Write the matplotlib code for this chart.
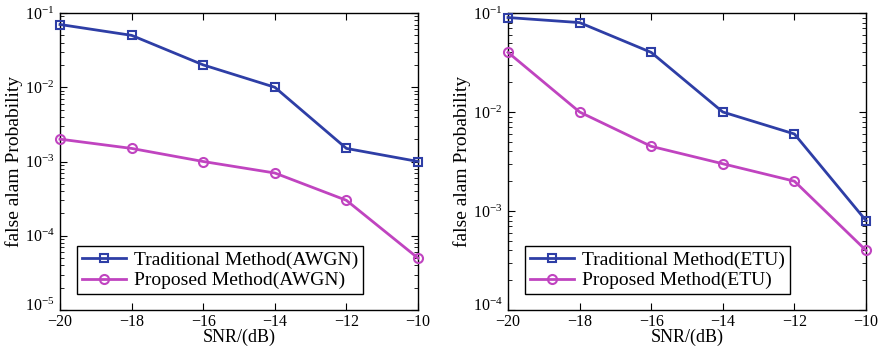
import matplotlib
matplotlib.use("Agg")
import matplotlib.pyplot as plt
import matplotlib.transforms as mtransforms
from matplotlib.ticker import LogLocator, NullFormatter

plt.rcParams['font.family'] = ['Liberation Serif', 'DejaVu Serif']
plt.rcParams['mathtext.fontset'] = 'stix'

snr = [-20, -18, -16, -14, -12, -10]
awgn_trad = [0.07, 0.05, 0.02, 0.01, 0.0015, 0.001]
awgn_prop = [0.002, 0.0015, 0.001, 0.0007, 0.0003, 0.00005]
etu_trad = [0.09, 0.08, 0.04, 0.01, 0.006, 0.0008]
etu_prop = [0.04, 0.01, 0.0045, 0.003, 0.002, 0.0004]

blue = '#2e3ea6'
magenta = '#c044c0'

fig = plt.figure(figsize=(8.79, 3.49), dpi=100)
ax1 = fig.add_axes([60/879, 39/349, 358/879, 297/349])
ax2 = fig.add_axes([508/879, 39/349, 358/879, 297/349])

panels = [
    (ax1, awgn_trad, awgn_prop, 'AWGN', (1e-5, 1e-1)),
    (ax2, etu_trad, etu_prop, 'ETU', (1e-4, 1e-1)),
]
for ax, tr, pr, name, ylim in panels:
    ax.semilogy(snr, tr, '-s', color=blue, lw=2.0, ms=6, mfc='none', mew=1.5,
                label=f'Traditional Method({name})', clip_on=False, zorder=3)
    ax.semilogy(snr, pr, '-o', color=magenta, lw=2.0, ms=6.5, mfc='none', mew=1.5,
                label=f'Proposed Method({name})', clip_on=False, zorder=3)
    ax.set_xlim(-20, -10)
    ax.set_ylim(*ylim)
    ax.set_xticks(snr)
    ax.set_xticklabels([f'\u2212{abs(v)}' for v in snr])
    ax.yaxis.set_major_locator(LogLocator(base=10, numticks=10))
    ax.yaxis.set_minor_locator(LogLocator(base=10, subs=range(2, 10), numticks=100))
    ax.yaxis.set_minor_formatter(NullFormatter())
    ax.tick_params(which='both', direction='in', top=True, right=True, labelsize=11.5)
    ax.tick_params(axis='x', pad=3)
    ax.tick_params(axis='y', pad=4)
    ax.tick_params(which='major', length=5)
    ax.tick_params(which='minor', length=3)
    ax.set_xlabel('SNR/(dB)', fontsize=13, labelpad=-1)
    ax.set_ylabel('false alam Probability', fontsize=14, labelpad=1)
    for s in ax.spines.values():
        s.set_linewidth(1.0)
    leg = ax.legend(loc='lower left', bbox_to_anchor=(0.047, 0.053), fontsize=14,
                    fancybox=False, edgecolor='black', framealpha=1,
                    handlelength=2.3, handletextpad=0.4, borderpad=0.25,
                    labelspacing=0.15, borderaxespad=0)
    leg.get_frame().set_linewidth(1.0)

fig.canvas.draw()
for ax in (ax1, ax2):
    offset = mtransforms.ScaledTranslation(0, 6/100, fig.dpi_scale_trans)
    lo = ax.get_ylim()[0]
    for tick in ax.yaxis.get_major_ticks():
        if abs(tick.get_loc() - lo) / lo < 1e-6:
            lbl = tick.label1
            lbl.set_transform(lbl.get_transform() + offset)

fig.savefig('out.png', dpi=100)
